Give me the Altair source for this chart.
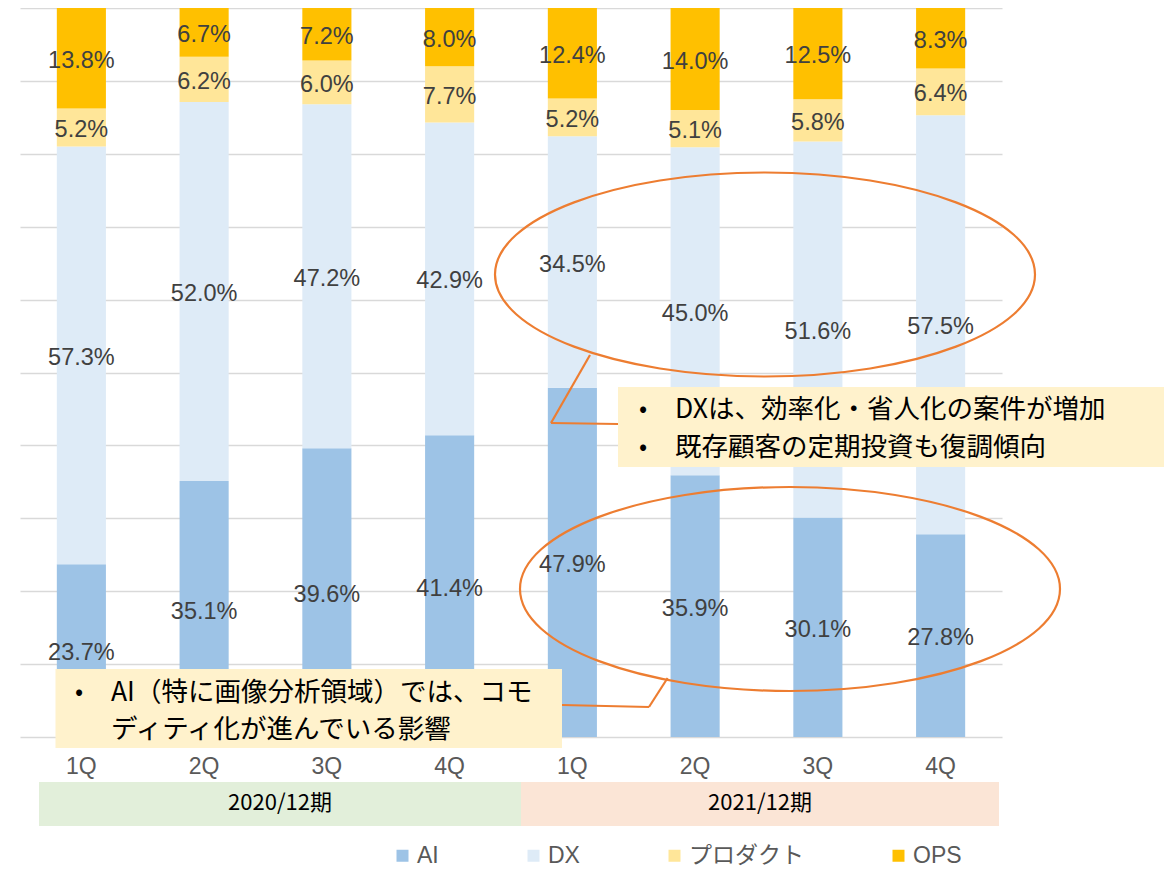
import altair as alt
import pandas as pd

# ---- data ----
quarters = ["1Q", "2Q", "3Q", "4Q", "1Q", "2Q", "3Q", "4Q"]
periods = ["2020/12期"] * 4 + ["2021/12期"] * 4
series = ["AI", "DX", "プロダクト", "OPS"]
colors = ["#9DC3E6", "#DEEBF7", "#FFE699", "#FFC000"]
ai = [23.7, 35.1, 39.6, 41.4, 47.9, 35.9, 30.1, 27.8]
dx = [57.3, 52.0, 47.2, 42.9, 34.5, 45.0, 51.6, 57.5]
product = [5.2, 6.2, 6.0, 7.7, 5.2, 5.1, 5.8, 6.4]
ops = [13.8, 6.7, 7.2, 8.0, 12.4, 14.0, 12.5, 8.3]
period_names = ["2020/12期", "2021/12期"]
notes_dx = ["DXは、効率化・省人化の案件が増加", "既存顧客の定期投資も復調傾向"]
notes_ai = ["AI（特に画像分析領域）では、コモ", "ディティ化が進んでいる影響"]

rows = []
keys = []
for i, (p, q) in enumerate(zip(periods, quarters)):
    key = f"{p} {q}"
    keys.append(key)
    for j, (s, vals) in enumerate(zip(series, [ai, dx, product, ops])):
        rows.append({"key": key, "series": s, "order": j, "value": vals[i]})
df = pd.DataFrame(rows)

W, H = 982, 729
ORANGE = "#ED7D31"
BOX = "#FFF2CC"
LATIN = "Liberation Sans"
CJK = "Noto Sans CJK JP"

xscale = alt.Scale(domain=keys, paddingInner=0.6, paddingOuter=0.3)
yscale = alt.Scale(domain=[0, 1], nice=False)

bars = alt.Chart(df).mark_bar().encode(
    x=alt.X("key:N", scale=xscale,
            axis=alt.Axis(title=None, labelExpr="substring(datum.label, length(datum.label)-2)",
                          labelAngle=0, labelFont=LATIN, labelFontSize=23, labelColor="#595959",
                          ticks=False, tickSize=0, domain=False, labelPadding=18, grid=False)),
    y=alt.Y("value:Q", stack="normalize", scale=yscale,
            axis=alt.Axis(values=[0, 0.1, 0.2, 0.3, 0.4, 0.5, 0.6, 0.7, 0.8, 0.9, 1.0],
                          labels=False, ticks=False, domain=False, title=None,
                          grid=True, gridColor="#D9D9D9", gridWidth=1.5)),
    color=alt.Color("series:N", scale=alt.Scale(domain=series, range=colors),
                    legend=alt.Legend(title=None, orient="none", legendX=371, legendY=836,
                                      direction="horizontal", symbolType="square", symbolSize=144,
                                      symbolStrokeWidth=0, labelFont=f"{LATIN}, {CJK}",
                                      labelFontSize=23, labelColor="#595959", labelOffset=3,
                                      columnPadding=83, padding=0)),
    order=alt.Order("order:Q", sort="ascending"),
)

labels = alt.Chart(df).transform_stack(
    stack="value", as_=["y0", "y1"], groupby=["key"],
    sort=[alt.SortField(field="order", order="ascending")], offset="normalize"
).transform_calculate(
    mid="(datum.y0 + datum.y1) / 2",
    label="format(datum.value, '.1f') + '%'"
).mark_text(font=LATIN, fontSize=23.5, color="#404040", baseline="middle", align="center",
            dy=2.5).encode(
    x=alt.X("key:N", scale=xscale),
    y=alt.Y("mid:Q", scale=yscale),
    text="label:N",
)

one = pd.DataFrame({"a": [0]})


def ellipse_path(e):
    k = 0.5523
    return (f"M-1,0C-1,{-k*e:.4f} {-k:.4f},{-e:.4f} 0,{-e:.4f}"
            f"C{k:.4f},{-e:.4f} 1,{-k*e:.4f} 1,0"
            f"C1,{k*e:.4f} {k:.4f},{e:.4f} 0,{e:.4f}"
            f"C{-k:.4f},{e:.4f} -1,{k*e:.4f} -1,0Z")


def ellipse(cx, cy, rx, ry):
    return alt.Chart(one).mark_point(shape=ellipse_path(ry / rx), size=(2 * rx) ** 2,
                                     filled=False, color=ORANGE, strokeWidth=2.2,
                                     opacity=1).encode(x=alt.value(cx), y=alt.value(cy))


def seg(x1, y1, x2, y2):
    return alt.Chart(one).mark_rule(color=ORANGE, strokeWidth=2.2).encode(
        x=alt.value(x1), y=alt.value(y1), x2=alt.value(x2), y2=alt.value(y2))


def box(x1, x2, y1, y2, fill):
    return alt.Chart(one).mark_rect(color=fill).encode(
        x=alt.value(x1), x2=alt.value(x2), y=alt.value(y1), y2=alt.value(y2))


def txt(s, x, y, size, font=CJK, align="left", color="#000000"):
    return alt.Chart(pd.DataFrame({"t": [s]})).mark_text(
        font=font, fontSize=size, align=align, baseline="middle", color=color
    ).encode(x=alt.value(x), y=alt.value(y), text="t:N")


layers = [bars, labels,
          ellipse(745, 266.5, 270, 102),
          ellipse(770, 581, 270, 102),
          box(19, 501, 774, 818, "#E2EFDA"),
          box(501, 979, 774, 818, "#FBE5D6"),
          txt(period_names[0], 260, 795, 22, align="center"),
          txt(period_names[1], 740, 795, 22, align="center"),
          seg(570, 347, 531, 415), seg(531, 415, 598, 416),
          seg(647.6, 670, 629, 699), seg(629, 699, 542, 697),
          box(598, 1144, 379, 459, BOX),
          box(35.5, 542, 661, 740, BOX)]

for i, s in enumerate(notes_dx):
    yy = [402, 440][i]
    layers.append(txt("•", 623, yy, 24, align="center"))
    layers.append(txt(s, 655, yy, 26.5))
for i, s in enumerate(notes_ai):
    yy = [685, 722][i]
    if i == 0:
        layers.append(txt("•", 59, yy, 24, align="center"))
    layers.append(txt(s, 91, yy, 26.5))

chart = alt.layer(*layers).properties(
    width=W, height=H,
    autosize=alt.AutoSizeParams(type="none"),
    padding={"left": 12, "top": 0, "right": 164, "bottom": 132},
).configure_view(stroke=None)

chart.save("out.html", embed_options={"renderer": "svg", "actions": False})
